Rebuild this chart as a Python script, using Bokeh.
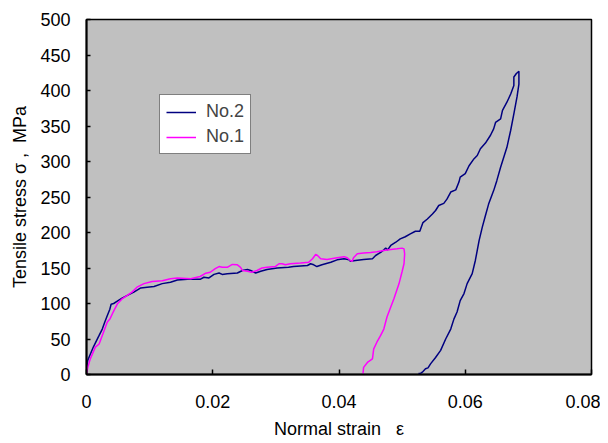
from bokeh.plotting import figure
from bokeh.models import Range1d, FixedTicker, Legend, LegendItem
from bokeh.embed import file_html
from bokeh.resources import INLINE

# ---- data ----
no2_strain = [0.0000, 0.0002, 0.0011, 0.0020, 0.0025, 0.0029, 0.0033, 0.0037, 0.0039, 0.0043,
              0.0050, 0.0057, 0.0064, 0.0075, 0.0086, 0.0096, 0.0107, 0.0120, 0.0133, 0.0144,
              0.0160, 0.0180, 0.0186, 0.0194, 0.0202, 0.0210, 0.0215, 0.0223, 0.0239, 0.0247,
              0.0255, 0.0260, 0.0268, 0.0276, 0.0286, 0.0302, 0.0320, 0.0328, 0.0350, 0.0355,
              0.0360, 0.0365, 0.0373, 0.0387, 0.0397, 0.0408, 0.0416, 0.0418, 0.0426, 0.0439,
              0.0453, 0.0458, 0.0466, 0.0471, 0.0474, 0.0477, 0.0482, 0.0490, 0.0497, 0.0505,
              0.0513, 0.0521, 0.0528, 0.0533, 0.0540, 0.0548, 0.0553, 0.0558, 0.0566, 0.0571,
              0.0577, 0.0585, 0.0590, 0.0592, 0.0600, 0.0606, 0.0614, 0.0619, 0.0624, 0.0632,
              0.0640, 0.0645, 0.0648, 0.0656, 0.0659, 0.0666, 0.0672, 0.0677, 0.0677, 0.0681,
              0.0685, 0.0685, 0.0685, 0.0682, 0.0677, 0.0672, 0.0666, 0.0661, 0.0656, 0.0650,
              0.0645, 0.0637, 0.0632, 0.0627, 0.0622, 0.0616, 0.0611, 0.0603, 0.0598, 0.0592,
              0.0587, 0.0582, 0.0577, 0.0569, 0.0561, 0.0553, 0.0545, 0.0541, 0.0537, 0.0532,
              0.0528, 0.0526]
no2_stress = [10, 20, 39, 55, 64, 74, 83, 92, 99, 100,
              104, 108, 111, 116, 122, 123, 124, 128, 130, 133,
              134, 134, 137, 136, 141, 143, 141, 142, 143, 146.5,
              148, 146.5, 143, 145.5, 148, 150, 151, 152, 153.5, 156,
              154.5, 152, 154.5, 158, 161.5, 163, 161.5, 159.6, 160.6, 162,
              163, 167.6, 172, 175.6, 178, 175.6, 181.7, 186.3, 191, 194,
              198, 201.8, 201.8, 214, 219, 226, 231, 238, 241, 247,
              257, 260, 271, 278, 283, 294, 304, 308.5, 318, 326,
              337, 346, 355, 360, 372, 383.5, 395, 407, 419, 424,
              427, 423.5, 409, 391, 367, 344, 320, 306, 292, 273,
              259, 240, 224, 207.5, 189, 160.6, 142, 128, 114, 104,
              88, 78, 64, 50, 34, 24, 15, 9.4, 8, 3.3,
              1, 1.8]

no1_strain = [0.0000, 0.0002, 0.0006, 0.0014, 0.0020, 0.0025, 0.0030, 0.0033, 0.0037, 0.0041,
              0.0044, 0.0049, 0.0057, 0.0064, 0.0072, 0.0080, 0.0091, 0.0104, 0.0120, 0.0133,
              0.0144, 0.0165, 0.0180, 0.0189, 0.0196, 0.0204, 0.0210, 0.0215, 0.0223, 0.0231,
              0.0239, 0.0244, 0.0247, 0.0255, 0.0262, 0.0270, 0.0278, 0.0286, 0.0299, 0.0305,
              0.0310, 0.0315, 0.0323, 0.0339, 0.0352, 0.0358, 0.0363, 0.0366, 0.0371, 0.0381,
              0.0397, 0.0408, 0.0413, 0.0418, 0.0421, 0.0423, 0.0429, 0.0439, 0.0450, 0.0460,
              0.0471, 0.0482, 0.0492, 0.0500, 0.0503, 0.0504, 0.0503, 0.0500, 0.0495, 0.0487,
              0.0482, 0.0476, 0.0471, 0.0466, 0.0460, 0.0455, 0.0453, 0.0445, 0.0439, 0.0438]
no1_stress = [1, 10, 22, 38.5, 43, 55, 67, 74, 78, 85.5,
              91, 99.5, 107, 111, 116, 123, 128, 131, 132, 135,
              136, 135, 138, 142.7, 144, 149, 152, 151, 151, 155,
              154.5, 151, 146.5, 145.5, 144, 146.5, 150, 151, 152, 156,
              156, 154.5, 156, 157, 158, 163, 169, 167.6, 163, 162,
              164.4, 166, 164.4, 160.6, 159.6, 164.4, 170, 171, 172, 173,
              174.6, 176, 177, 178, 177, 170, 156, 145, 127.7, 106.6,
              95, 81, 64, 55, 45.5, 36, 22, 17, 10, 1]

series_names = ["No.2", "No.1"]
series_colors = ["#000080", "#FF00FF"]

x_ticks = [0, 0.02, 0.04, 0.06, 0.08]
x_tick_labels = ["0", "0.02", "0.04", "0.06", "0.08"]
y_ticks = [0, 50, 100, 150, 200, 250, 300, 350, 400, 450, 500]

x_title = "Normal strain\u00a0\u00a0 ε"
y_title = "Tensile stress σ ,\u00a0\u00a0MPa"

FONT = "Liberation Sans"

p = figure(width=600, height=443, output_backend="svg", toolbar_location=None,
           x_range=Range1d(0, 0.08), y_range=Range1d(0, 500),
           min_border_left=86, min_border_right=9, min_border_top=19, min_border_bottom=69)

p.background_fill_color = "#C0C0C0"
p.border_fill_color = "white"
p.outline_line_color = "black"
p.outline_line_width = 1.5
p.xgrid.visible = False
p.ygrid.visible = False

r2 = p.line(no2_strain, no2_stress, line_color=series_colors[0], line_width=1.5)
r1 = p.line(no1_strain, no1_stress, line_color=series_colors[1], line_width=1.5)

# axes
p.xaxis.ticker = FixedTicker(ticks=x_ticks)
p.xaxis.major_label_overrides = dict(zip(x_ticks, x_tick_labels))
p.yaxis.ticker = FixedTicker(ticks=y_ticks)
for ax in (p.xaxis[0], p.yaxis[0]):
    ax.axis_line_color = "black"
    ax.axis_line_width = 2
    ax.major_tick_line_color = "black"
    ax.major_tick_line_width = 1.5
    ax.major_tick_out = 0
    ax.minor_tick_in = 0
    ax.minor_tick_out = 0
    ax.major_label_text_font = FONT
    ax.major_label_text_font_size = "18px"
    ax.major_label_text_color = "black"
    ax.axis_label_text_font = FONT
    ax.axis_label_text_font_size = "18px"
    ax.axis_label_text_font_style = "normal"
    ax.axis_label_text_color = "black"
p.xaxis.major_tick_in = 5
p.yaxis.major_tick_in = 4
p.xaxis.major_label_standoff = 20
p.yaxis.major_label_standoff = 16
p.xaxis.axis_label = x_title
p.yaxis.axis_label = y_title
p.xaxis.axis_label_standoff = 8
p.yaxis.axis_label_standoff = 7

legend = Legend(items=[LegendItem(label=series_names[0], renderers=[r2]),
                       LegendItem(label=series_names[1], renderers=[r1])],
                location=(73, 220))
legend.border_line_color = "black"
legend.border_line_width = 1
legend.background_fill_color = "white"
legend.background_fill_alpha = 1
legend.label_text_font = FONT
legend.label_text_font_size = "18px"
legend.glyph_width = 30
legend.glyph_height = 20
legend.label_height = 20
legend.label_standoff = 10
legend.spacing = 4
legend.padding = 6
legend.margin = 0
p.add_layout(legend)

open("out.html", "w").write(file_html(p, INLINE))
